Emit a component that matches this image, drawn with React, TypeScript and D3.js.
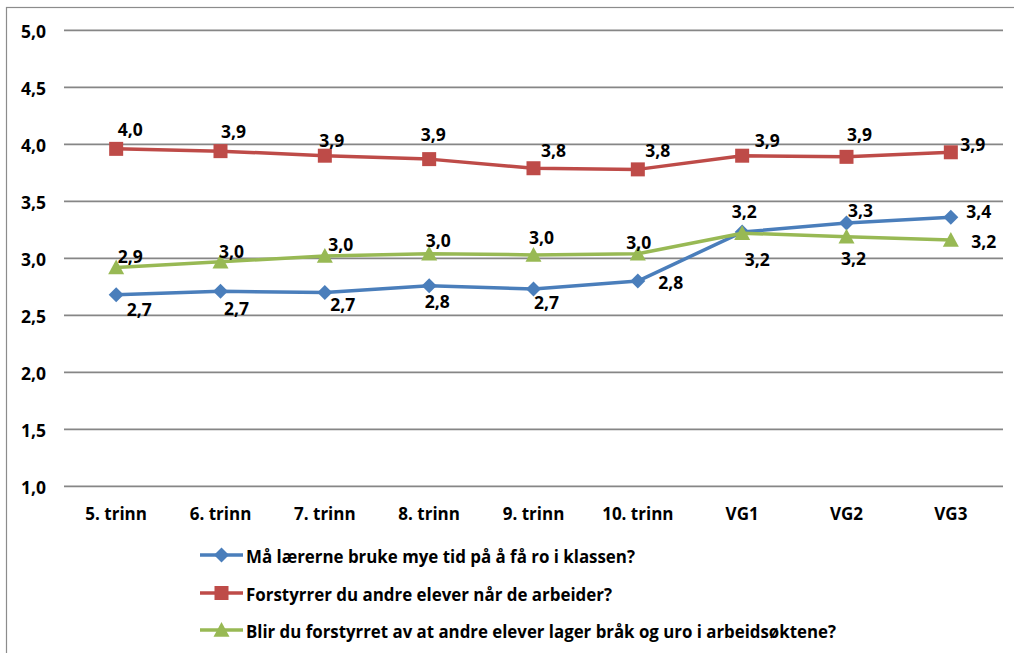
import React from "react";
import * as d3 from "d3";

const categories = ["5. trinn", "6. trinn", "7. trinn", "8. trinn", "9. trinn", "10. trinn", "VG1", "VG2", "VG3"];
const yTicks = [1.0, 1.5, 2.0, 2.5, 3.0, 3.5, 4.0, 4.5, 5.0];

const seriesNames = [
  "Må lærerne bruke mye tid på å få ro i klassen?",
  "Forstyrrer du andre elever når de arbeider?",
  "Blir du forstyrret av at andre elever lager bråk og uro i arbeidsøktene?",
];
const blueValues = [2.68, 2.71, 2.70, 2.76, 2.73, 2.80, 3.23, 3.31, 3.36];
const redValues = [3.96, 3.94, 3.90, 3.87, 3.79, 3.78, 3.90, 3.89, 3.93];
const greenValues = [2.92, 2.97, 3.02, 3.04, 3.03, 3.04, 3.22, 3.19, 3.16];

// label nudges (annotation layout, px relative to the point)
const blueLabelNudge = [[23, 14], [16, 17], [18, 11], [8, 15], [13, 13], [33, 1], [2, -21], [14, -13], [28, -6]];
const redLabelNudge = [[14, -20], [13, -20], [7, -16], [4, -25], [20, -18], [20, -19], [25, -16], [13, -23], [22, -8]];
const greenLabelNudge = [[14, -11], [11, -11], [16, -12], [9, -14], [8, -18], [1, -12], [15, 26], [7, 21], [33, 1]];

const colors = ["#4A7EBB", "#BE4B48", "#98B954"];
const FONT = "'Open Sans', sans-serif";

function Marker({ kind, x, y, color }: { kind: number; x: number; y: number; color: string }) {
  if (kind === 0) {
    const s = 7.5;
    return <path d={`M${x},${y - s}L${x + s},${y}L${x},${y + s}L${x - s},${y}Z`} fill={color} />;
  }
  if (kind === 1) {
    const s = 7;
    return <rect x={x - s} y={y - s} width={2 * s} height={2 * s} fill={color} />;
  }
  const s = 8;
  return <path d={`M${x},${y - s}L${x + s},${y + s * 0.85}L${x - s},${y + s * 0.85}Z`} fill={color} />;
}

export default function App() {
  const W = 1014, H = 653;
  const x = d3.scalePoint<string>().domain(categories).range([64, 1003]).padding(0.5);
  const y = d3.scaleLinear().domain([1, 5]).range([486.3, 30.3]);
  const series = [blueValues, redValues, greenValues];
  const nudges = [blueLabelNudge, redLabelNudge, greenLabelNudge];
  const line = d3.line<number>().x((_, i) => x(categories[i])!).y((d) => y(d));
  const fmt = (v: number) => d3.format(".1f")(v).replace(".", ",");
  const legendRows = [555, 593, 630];
  const legendLens = [389, 366, 590];

  return (
    <svg width={W} height={H} style={{ position: "absolute", left: 0, top: 0, background: "#fff" }}>
      <rect x={6.5} y={7.5} width={1030} height={700} fill="#fff" stroke="#8c8c8c" strokeWidth={1.2} />
      {yTicks.map((t) => (
        <g key={t}>
          <line x1={64} x2={1003} y1={y(t) + 1} y2={y(t) + 1} stroke="#d9d9d9" strokeWidth={1} />
          <line x1={64} x2={1003} y1={y(t)} y2={y(t)} stroke="#868686" strokeWidth={1.4} />
          <text x={46} y={y(t) + 1} textAnchor="end" dominantBaseline="central" fontFamily={FONT} fontWeight={700} fontSize={17.5} fill="#000">
            {fmt(t)}
          </text>
        </g>
      ))}
      {categories.map((c) => (
        <text key={c} x={x(c)} y={513} textAnchor="middle" dominantBaseline="central" fontFamily={FONT} fontWeight={700} fontSize={17} fill="#000">
          {c}
        </text>
      ))}
      {series.map((vals, si) => (
        <g key={si}>
          <path d={line(vals)!} fill="none" stroke={colors[si]} strokeWidth={3.5} strokeLinejoin="round" />
          {vals.map((v, i) => (
            <Marker key={i} kind={si} x={x(categories[i])!} y={y(v)} color={colors[si]} />
          ))}
        </g>
      ))}
      {series.map((vals, si) =>
        vals.map((v, i) => (
          <text
            key={`${si}-${i}`}
            x={x(categories[i])! + nudges[si][i][0]}
            y={y(v) + nudges[si][i][1]}
            textAnchor="middle"
            dominantBaseline="central"
            fontFamily={FONT}
            fontWeight={700}
            fontSize={17.5}
            fill="#000"
          >
            {fmt(v)}
          </text>
        ))
      )}
      {seriesNames.map((name, si) => (
        <g key={name}>
          <line x1={200} x2={243} y1={legendRows[si]} y2={legendRows[si]} stroke={colors[si]} strokeWidth={3.5} />
          <Marker kind={si} x={221.5} y={legendRows[si]} color={colors[si]} />
          <text
            x={246}
            y={legendRows[si] + 1}
            dominantBaseline="central"
            fontFamily={FONT}
            fontWeight={700}
            fontSize={17}
            textLength={legendLens[si]}
            lengthAdjust="spacingAndGlyphs"
            fill="#000"
          >
            {name}
          </text>
        </g>
      ))}
    </svg>
  );
}
